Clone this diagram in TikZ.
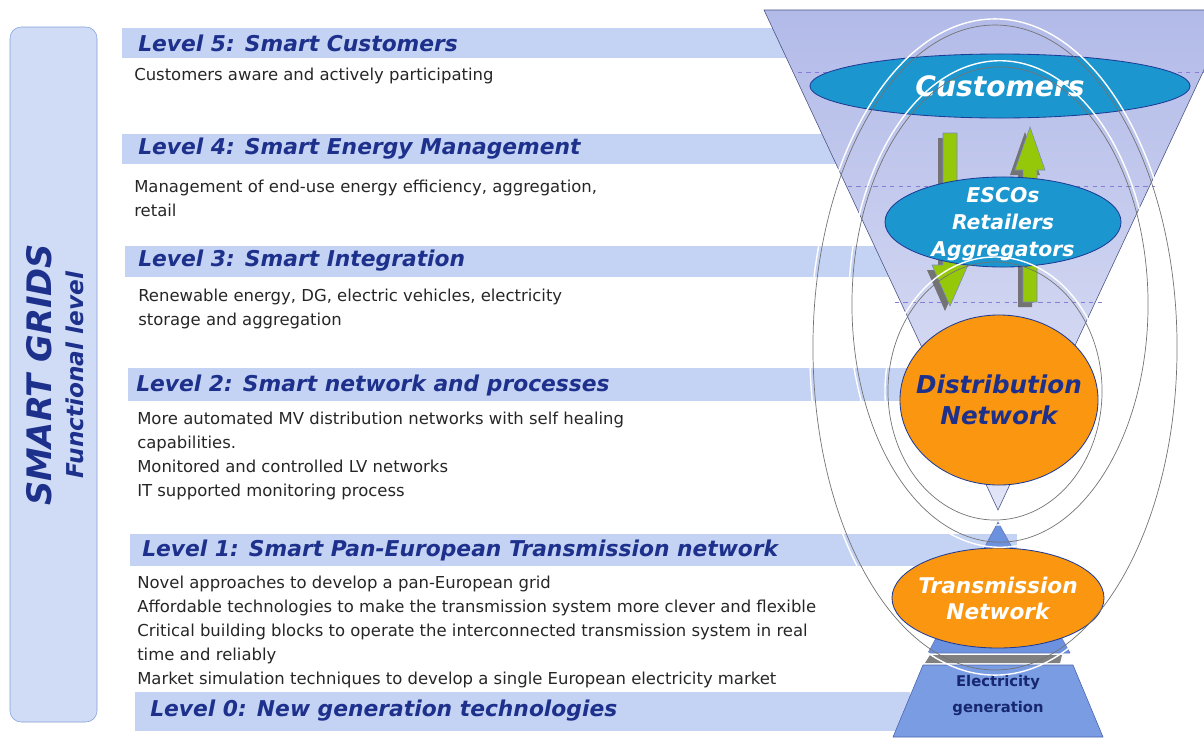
\documentclass[tikz,border=0pt]{standalone}
\usepackage{fontspec}
\setmainfont{DejaVu Sans}
\usetikzlibrary{shapes, positioning}
\definecolor{titleblue}{RGB}{28,48,140}
\definecolor{barblue}{RGB}{196,210,243}
\definecolor{panelblue}{RGB}{208,220,245}
\definecolor{paneledge}{RGB}{130,158,218}
\definecolor{funneltop}{RGB}{178,186,232}
\definecolor{funnelbot}{RGB}{226,229,246}
\definecolor{funneledge}{RGB}{70,80,130}
\definecolor{bubbleblue}{RGB}{28,150,206}
\definecolor{bubbleedge}{RGB}{30,60,150}
\definecolor{netorange}{RGB}{250,150,15}
\definecolor{arrowgreen}{RGB}{150,200,10}
\definecolor{pyramidblue}{RGB}{108,145,222}
\definecolor{genblue}{RGB}{122,156,226}
\definecolor{dashlilac}{RGB}{135,125,215}
\tikzstyle{levelbar} = [fill=barblue]
\tikzstyle{leveltitle} = [text=titleblue, font=\fontsize{15.5}{17}\selectfont\bfseries\itshape, anchor=west, inner sep=0pt]
\tikzstyle{leveltext} = [text=black!85, font=\fontsize{11.7}{17}\selectfont, align=left, anchor=north west, inner sep=0pt]
\tikzstyle{bubble} = [ellipse, draw=bubbleedge, semithick, inner sep=0pt]
\tikzstyle{bubbletext} = [font=\bfseries\itshape, align=center, inner sep=0pt]
\tikzstyle{greenarrow} = [fill=arrowgreen, draw=bubbleedge!60, thin]
\tikzstyle{arrowshadow} = [fill=black!55]
\tikzstyle{ring} = [draw=black!55, line width=0.5pt]
\tikzstyle{ringglow} = [draw=white, line width=1pt]
\begin{document}
\begin{tikzpicture}[x=0.025cm, y=-0.025cm]
	\useasboundingbox (0,0) rectangle (1204,737);
	% level bars
	\fill[levelbar] (122,28) rectangle (800,58);
	\fill[levelbar] (122,134) rectangle (850,164);
	\fill[levelbar] (125,246) rectangle (890,277);
	\fill[levelbar] (128,368) rectangle (950,401);
	\fill[levelbar] (130,534) rectangle (1017,566);
	\fill[levelbar] (135,692) rectangle (910,731);
	\node[leveltitle] (lvlfive) at (138,43) {Level 5: Smart Customers};
	\node[leveltitle] (lvlfour) at (138,149) {Level 4: Smart Energy Management};
	\node[leveltitle] (lvlthree) at (138,261) {Level 3: Smart Integration};
	\node[leveltitle] (lvltwo) at (136,385) {Level 2: Smart network and processes};
	\node[leveltitle] (lvlone) at (142,550) {Level 1: Smart Pan-European Transmission network};
	\node[leveltitle] (lvlzero) at (150,711) {Level 0: New generation technologies};
	\node[leveltext] (txtfive) at (134,68) {Customers aware and actively participating};
	\node[leveltext] (txtfour) at (134,180) {Management of end-use energy efficiency, aggregation,\\retail};
	\node[leveltext] (txtthree) at (138,289) {Renewable energy, DG, electric vehicles, electricity\\storage and aggregation};
	\node[leveltext] (txttwo) at (137,412) {More automated MV distribution networks with self healing\\capabilities.\\Monitored and controlled LV networks\\IT supported monitoring process};
	\node[leveltext] (txtone) at (137,576) {Novel approaches to develop a pan-European grid\\Affordable technologies to make the transmission system more clever and flexible\\Critical building blocks to operate the interconnected transmission system in real\\time and reliably\\Market simulation techniques to develop a single European electricity market};
	% side panel
	\draw[fill=panelblue, draw=paneledge, rounded corners=8pt] (10,27) rectangle (97,722);
	\node[rotate=90, text=titleblue, font=\fontsize{24}{26}\selectfont\bfseries\itshape] (smartgrids) at (39,375) {SMART GRIDS};
	\node[rotate=90, text=titleblue, font=\fontsize{16.5}{18}\selectfont\bfseries\itshape] (funclevel) at (75,375) {Functional level};
	% funnel
	\draw[top color=funneltop, bottom color=funnelbot, draw=funneledge] (764,10) -- (1232,10) -- (998,510) -- cycle;
	\draw[dashlilac, dashed, thin] (798,72) -- (1204,72);
	\draw[dashlilac, dashed, thin] (848,186) -- (1155,186);
	\draw[dashlilac, dashed, thin] (895,302) -- (1103,302);
	\node[bubble, fill=bubbleblue, minimum width=9.5cm, minimum height=1.6cm] (customers) at (1000,86) {};
	\node[bubbletext, text=white, font=\fontsize{20}{22}\selectfont\bfseries\itshape] at (customers) {Customers};
	% green arrows
	\fill[arrowshadow] (938,138) -- (952,138) -- (952,270) -- (963,270) -- (945,311) -- (927,270) -- (938,270) -- cycle;
	\fill[arrowshadow] (1025,132) -- (1040,175) -- (1032,175) -- (1032,307) -- (1018,307) -- (1018,175) -- (1010,175) -- cycle;
	\draw[greenarrow] (943,133) -- (957,133) -- (957,265) -- (968,265) -- (950,306) -- (932,265) -- (943,265) -- cycle;
	\draw[greenarrow] (1030,127) -- (1045,170) -- (1037,170) -- (1037,302) -- (1023,302) -- (1023,170) -- (1015,170) -- cycle;
	\node[bubble, fill=bubbleblue, minimum width=5.9cm, minimum height=2.25cm] (escos) at (1003,222) {};
	\node[bubbletext, text=white, font=\fontsize{14.5}{19.5}\selectfont\bfseries\itshape] at ([yshift=-1.5pt]escos.center) {ESCOs\\Retailers\\Aggregators};
	\node[bubble, fill=netorange, minimum width=4.95cm, minimum height=4.25cm] (distribution) at (999,400) {};
	\node[bubbletext, text=titleblue, font=\fontsize{17.5}{22}\selectfont\bfseries\itshape] at (distribution) {Distribution\\Network};
	% pyramid and base
	\draw[fill=pyramidblue, draw=bubbleedge!70] (998,522) -- (1070,653) -- (928,653) -- cycle;
	\fill[black!50] (930,655) -- (1062,655) -- (1060,663) -- (925,663) -- cycle;
	\node[bubble, fill=netorange, minimum width=5.3cm, minimum height=2.5cm] (transmission) at (998,598) {};
	\node[bubbletext, text=white, font=\fontsize{15.4}{18.5}\selectfont\bfseries\itshape] at (transmission) {Transmission\\Network};
	\draw[fill=genblue, draw=bubbleedge!80] (923,665) -- (1073,665) -- (1103,737) -- (893,737) -- cycle;
	\node[align=center, text=titleblue!80!black, font=\fontsize{10.5}{18.5}\selectfont\bfseries] (generation) at (998,695) {Electricity\\generation};
	% rings
	\draw[ringglow] (995,347) ellipse [x radius=4.63cm, y radius=8.2cm];
	\draw[ring] (995,347.5) ellipse [x radius=4.55cm, y radius=8.06cm];
	\draw[ringglow] (1000,304) ellipse [x radius=3.78cm, y radius=6.08cm];
	\draw[ring] (1000,304.5) ellipse [x radius=3.7cm, y radius=5.94cm];
	\draw[ringglow] (995,391) ellipse [x radius=2.75cm, y radius=3.35cm];
	\draw[ring] (995,391) ellipse [x radius=2.675cm, y radius=3.225cm];
\end{tikzpicture}
\end{document}
